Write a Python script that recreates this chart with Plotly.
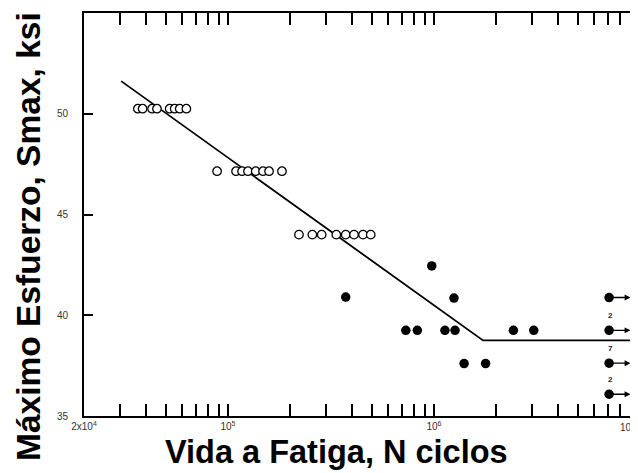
import math
import plotly.graph_objects as go

# ---- data ----
open_N = [36500, 38500, 42800, 45200, 52100, 55100, 58300, 62800,
          88500, 109400, 117000, 125000, 136300, 147900, 158200, 182800,
          221000, 256700, 285000, 335600, 372800, 409000, 452300, 493000]
open_S = [50.25] * 8 + [47.15] * 8 + [44.0] * 8

fail_N = [372800, 975000, 1250000, 730000, 830000, 1130000, 1265000,
          1400000, 1780000, 2430000, 3050000]
fail_S = [40.9, 42.45, 40.85, 39.25, 39.25, 39.25, 39.25,
          37.6, 37.6, 39.25, 39.25]

runout_N = [7.08e6, 7.08e6, 7.08e6, 7.08e6]
runout_S = [40.88, 39.25, 37.62, 36.08]
runout_counts = ["", "2", "7", "2"]

fit_N = [30300, 1.73e6, 1.3e7]
fit_S = [51.62, 38.75, 38.75]

x_tickvals = [2e4, 1e5, 1e6]
x_ticktext = ["2x10<sup>4</sup>", "10<sup>5</sup>", "10<sup>6</sup>"]
x_minor = [3e4, 4e4, 5e4, 6e4, 7e4, 8e4, 9e4,
           2e5, 3e5, 4e5, 5e5, 6e5, 7e5, 8e5, 9e5,
           2e6, 3e6, 4e6, 5e6, 6e6, 7e6, 8e6, 9e6]
y_tickvals = [35, 40, 45, 50]

x_title = "Vida a Fatiga, N ciclos"
y_title = "Máximo Esfuerzo, Smax, ksi"

# ---- figure (page body has an 8px margin) ----
OFF = 8
W, H = 638 - OFF, 473 - OFF
ML, MT = 84 - OFF, 13 - OFF
MR = W - (637 - OFF)
MB = H - (416 - OFF)
PW = W - ML - MR
PH = H - MT - MB
x_lo = math.log10(2e4) - 1e-4
x_hi = math.log10(2e4) + PW / 206.0

FONT = "Liberation Sans, Arial, sans-serif"
TICK_FONT = dict(family=FONT, size=10, color="#333")


def px_x(xp):
    return (xp - 84) / PW


def px_y(yp):
    return (416 - yp) / PH


fig = go.Figure()
fig.add_trace(go.Scatter(x=fit_N, y=fit_S, mode="lines",
                         line=dict(color="black", width=1.8),
                         hoverinfo="skip", showlegend=False))
fig.add_trace(go.Scatter(x=open_N, y=open_S, mode="markers",
                         marker=dict(symbol="circle", size=8.5, color="white",
                                     line=dict(color="black", width=1.3)),
                         showlegend=False))
fig.add_trace(go.Scatter(x=fail_N, y=fail_S, mode="markers",
                         marker=dict(symbol="circle", size=9.5, color="black"),
                         showlegend=False))
fig.add_trace(go.Scatter(x=runout_N, y=runout_S, mode="markers",
                         marker=dict(symbol="circle", size=9.5, color="black"),
                         showlegend=False))
# invisible trace for the right-hand axis
fig.add_trace(go.Scatter(x=[fit_N[0]], y=[fit_S[0]], yaxis="y2", mode="markers",
                         marker=dict(opacity=0), hoverinfo="skip",
                         showlegend=False))

ARROW_FACTOR = 1.27
annotations = []
for n, s, c in zip(runout_N, runout_S, runout_counts):
    annotations.append(dict(x=math.log10(n * ARROW_FACTOR), y=s, xref="x", yref="y",
                            ax=math.log10(n), ay=s, axref="x", ayref="y",
                            text="", showarrow=True, arrowhead=2, arrowsize=0.9,
                            arrowwidth=1.3, arrowcolor="black", standoff=0,
                            startstandoff=0))
    if c:
        annotations.append(dict(x=math.log10(n), y=s, xref="x", yref="y",
                                text="<b>" + c + "</b>", showarrow=False,
                                yshift=15, xshift=1,
                                font=dict(family=FONT, size=8, color="#222")))

annotations.append(dict(x=px_x(637), y=0, xref="paper", yref="paper",
                        text="10<sup>7</sup>", showarrow=False, yanchor="top",
                        yshift=-3, font=TICK_FONT))
annotations.append(dict(x=px_x(336), y=px_y(452),
                        xref="paper", yref="paper", text="<b>" + x_title + "</b>",
                        showarrow=False, xanchor="center", yanchor="middle",
                        font=dict(family=FONT, size=32.5, color="black")))
annotations.append(dict(x=px_x(28), y=px_y(237),
                        xref="paper", yref="paper", text="<b>" + y_title + "</b>",
                        showarrow=False, xanchor="center", yanchor="middle",
                        textangle=-90,
                        font=dict(family=FONT, size=33.5, color="black")))

fig.update_layout(
    width=W, height=H,
    margin=dict(l=ML, r=MR, t=MT, b=MB, pad=0, autoexpand=False),
    paper_bgcolor="white", plot_bgcolor="white",
    showlegend=False,
    font=dict(family=FONT, color="#222"),
    xaxis=dict(type="log", range=[x_lo, x_hi], showgrid=False, zeroline=False,
               automargin=False,
               showline=True, linecolor="black", linewidth=2,
               mirror="allticks", ticks="inside", ticklen=12, tickwidth=1.5,
               tickcolor="black", tickmode="array", tickvals=x_tickvals,
               ticktext=x_ticktext, tickfont=TICK_FONT,
               minor=dict(tickmode="array", tickvals=x_minor, ticks="inside",
                          ticklen=7, tickwidth=1.5, tickcolor="black",
                          showgrid=False)),
    yaxis=dict(range=[35, 55], showgrid=False, zeroline=False, showline=True,
               automargin=False,
               linecolor="black", linewidth=2, mirror=False, ticks="inside",
               ticklen=9, tickwidth=1.5, tickcolor="black", tickmode="array",
               tickvals=y_tickvals, ticklabelstandoff=12,
               tickfont=TICK_FONT),
    yaxis2=dict(range=[35, 55], overlaying="y", side="right", showgrid=False,
                automargin=False,
                zeroline=False, showline=True, linecolor="#c8c8c8", linewidth=1,
                ticks="inside", ticklen=6, tickwidth=1.5, tickcolor="#444",
                tickmode="array", tickvals=y_tickvals[1:], showticklabels=False),
    annotations=annotations,
)

fig.write_html("out.html")
